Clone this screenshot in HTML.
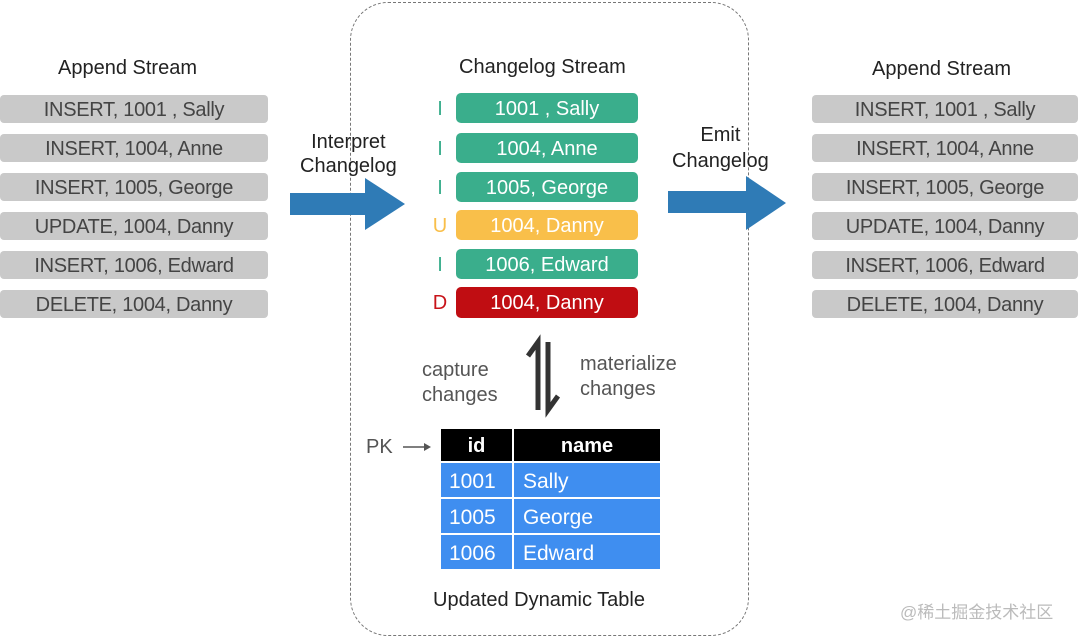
<!DOCTYPE html><html><head><meta charset="utf-8"><style>
body{margin:0;width:1080px;height:638px;background:#fff;position:relative;overflow:hidden;font-family:"Liberation Sans","Noto Sans CJK SC",sans-serif}
.a{position:absolute}
.g{position:absolute;height:28px;background:#c9c9c9;border-radius:4px;color:#444;font-size:20px;line-height:30px;text-align:center;letter-spacing:-0.3px}
.c{position:absolute;left:456px;width:182px;height:30px;border-radius:5px;color:#fff;font-size:20px;line-height:32px;text-align:center}
.l{position:absolute;left:432px;width:16px;text-align:center;font-size:20px;line-height:32px}
.t{color:#222;font-size:20px}
.cell{position:absolute;font-size:21px;color:#fff;line-height:37px}
</style></head><body>
<div class="a" style="left:350px;top:2px;width:397px;height:632px;border:1.5px dashed #777;border-radius:38px"></div>
<div class="a t" style="left:58px;top:57px">Append Stream</div>
<div class="a t" style="left:459px;top:56px">Changelog Stream</div>
<div class="a t" style="left:872px;top:58px">Append Stream</div>

<div class="g" style="left:0;top:95px;width:268px">INSERT, 1001 , Sally</div>
<div class="g" style="left:0;top:134px;width:268px">INSERT, 1004, Anne</div>
<div class="g" style="left:0;top:173px;width:268px">INSERT, 1005, George</div>
<div class="g" style="left:0;top:212px;width:268px">UPDATE, 1004, Danny</div>
<div class="g" style="left:0;top:251px;width:268px">INSERT, 1006, Edward</div>
<div class="g" style="left:0;top:290px;width:268px">DELETE, 1004, Danny</div>

<div class="g" style="left:812px;top:95px;width:266px">INSERT, 1001 , Sally</div>
<div class="g" style="left:812px;top:134px;width:266px">INSERT, 1004, Anne</div>
<div class="g" style="left:812px;top:173px;width:266px">INSERT, 1005, George</div>
<div class="g" style="left:812px;top:212px;width:266px">UPDATE, 1004, Danny</div>
<div class="g" style="left:812px;top:251px;width:266px">INSERT, 1006, Edward</div>
<div class="g" style="left:812px;top:290px;width:266px">DELETE, 1004, Danny</div>

<div class="l" style="top:93px;color:#3aae8c">I</div><div class="c" style="top:93px;background:#3aae8c">1001 , Sally</div>
<div class="l" style="top:133px;color:#3aae8c">I</div><div class="c" style="top:133px;background:#3aae8c">1004, Anne</div>
<div class="l" style="top:172px;color:#3aae8c">I</div><div class="c" style="top:172px;background:#3aae8c">1005, George</div>
<div class="l" style="top:210px;color:#f9bf4a">U</div><div class="c" style="top:210px;background:#f9bf4a">1004, Danny</div>
<div class="l" style="top:249px;color:#3aae8c">I</div><div class="c" style="top:249px;background:#3aae8c">1006, Edward</div>
<div class="l" style="top:287px;color:#c8141a">D</div><div class="c" style="top:287px;height:31px;background:#c00d12">1004, Danny</div>

<div class="a t" style="left:300px;top:130px;line-height:24px;text-align:center">Interpret<br>Changelog</div>
<div class="a t" style="left:672px;top:122px;line-height:26px;text-align:center">Emit<br>Changelog</div>
<svg class="a" style="left:0;top:0" width="1080" height="638">
<polygon points="290,193 365,193 365,178 405,204 365,230 365,215 290,215" fill="#2f7bb6"/>
<polygon points="668,191 746,191 746,176 786,203 746,230 746,213 668,213" fill="#2f7bb6"/>
<path d="M538,410 L538,342 L528,356" stroke="#333" stroke-width="5" fill="none"/>
<path d="M548,342 L548,410 L558,396" stroke="#333" stroke-width="5" fill="none"/>
<path d="M403,447 L424,447" stroke="#555" stroke-width="1.5"/><polygon points="424,443 431,447 424,451" fill="#555"/>
</svg>
<div class="a" style="left:422px;top:358px;color:#555;font-size:20px;line-height:25px">capture<br>changes</div>
<div class="a" style="left:580px;top:352px;color:#555;font-size:20px;line-height:25px">materialize<br>changes</div>
<div class="a" style="left:366px;top:436px;color:#555;font-size:20px">PK</div>

<div class="a" style="left:441px;top:429px;width:71px;height:32px;background:#000"></div>
<div class="a" style="left:514px;top:429px;width:146px;height:32px;background:#000"></div>
<div class="a" style="left:441px;top:429px;width:71px;color:#fff;font-weight:bold;font-size:20px;line-height:34px;text-align:center">id</div>
<div class="a" style="left:514px;top:429px;width:146px;color:#fff;font-weight:bold;font-size:20px;line-height:34px;text-align:center">name</div>
<div class="a" style="left:441px;top:463px;width:71px;height:34px;background:#3f8ef0"></div><div class="a" style="left:514px;top:463px;width:146px;height:34px;background:#3f8ef0"></div>
<div class="a" style="left:441px;top:499px;width:71px;height:34px;background:#3f8ef0"></div><div class="a" style="left:514px;top:499px;width:146px;height:34px;background:#3f8ef0"></div>
<div class="a" style="left:441px;top:535px;width:71px;height:34px;background:#3f8ef0"></div><div class="a" style="left:514px;top:535px;width:146px;height:34px;background:#3f8ef0"></div>
<div class="cell" style="left:449px;top:463px">1001</div><div class="cell" style="left:523px;top:463px">Sally</div>
<div class="cell" style="left:449px;top:499px">1005</div><div class="cell" style="left:523px;top:499px">George</div>
<div class="cell" style="left:449px;top:535px">1006</div><div class="cell" style="left:523px;top:535px">Edward</div>
<div class="a t" style="left:433px;top:589px">Updated Dynamic Table</div>
<div class="a" style="left:900px;top:598px;color:#bbb;font-size:17px">@稀土掘金技术社区</div>
</body></html>
